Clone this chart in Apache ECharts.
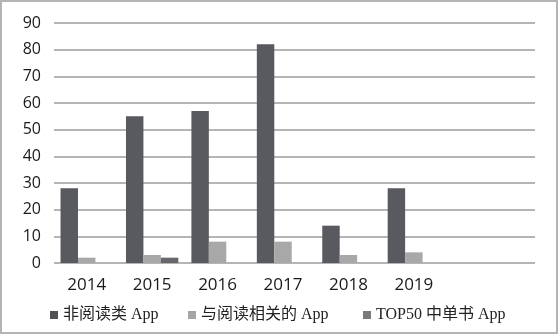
<!DOCTYPE html>
<html><head><meta charset="utf-8">
<script src="https://cdn.jsdelivr.net/npm/echarts@6/dist/echarts.min.js"></script>
<style>html,body{margin:0;padding:0;background:#fff}#c{width:558px;height:334px}</style>
</head><body><div id="c"></div>
<script>
var categories = ['2014','2015','2016','2017','2018','2019',''];
var seriesNames = ['非阅读类 App','与阅读相关的 App','TOP50 中单书 App'];
var nonReading = [28,55,57,82,14,28,null];
var readingRelated = [2,3,8,8,3,4,null];
var top50 = [0,2,0,0,0,0,null];
var yTicks = {min:0,max:90,interval:10};

var chart = echarts.init(document.getElementById('c'));
var legendFont = {fontFamily:"'Liberation Serif','Noto Sans CJK SC',serif",fontSize:16,color:'#222'};
chart.setOption({
  animation:false,
  graphic:[{type:'rect',shape:{x:1,y:1,width:556,height:332},style:{fill:'none',stroke:'#b4b4b4',lineWidth:2},z:100}],
  grid:[
    {left:54,right:23,top:23,bottom:71},
    {left:54,right:46,top:23,bottom:71}
  ],
  xAxis:[
    {gridIndex:0,type:'category',data:categories,show:false},
    {gridIndex:1,type:'category',data:categories,axisLine:{show:false},axisTick:{show:false},
     axisLabel:{fontFamily:"'Open Sans',sans-serif",fontSize:17,color:'#1a1a1a',margin:14}}
  ],
  yAxis:[
    {gridIndex:0,type:'value',min:yTicks.min,max:yTicks.max,interval:yTicks.interval,
     axisLine:{show:false},axisTick:{show:false},
     splitLine:{lineStyle:{color:'#9c9c9c',width:1.5}},
     axisLabel:{fontFamily:"'Open Sans',sans-serif",fontSize:16,color:'#1a1a1a',margin:13}},
    {gridIndex:1,type:'value',min:yTicks.min,max:yTicks.max,interval:yTicks.interval,show:false,splitLine:{show:false}}
  ],
  legend:[
    {left:45,top:302,itemWidth:8,itemHeight:8,icon:'rect',textStyle:legendFont,
     data:[{name:seriesNames[0],itemStyle:{color:'#505155'}}]},
    {left:183,top:302,itemWidth:8,itemHeight:8,icon:'rect',textStyle:legendFont,
     data:[{name:seriesNames[1],itemStyle:{color:'#a6a6a6'}}]},
    {left:358,top:302,itemWidth:8,itemHeight:8,icon:'rect',textStyle:legendFont,
     data:[{name:seriesNames[2],itemStyle:{color:'#7a7a7a'}}]}
  ],
  series:[
    {name:seriesNames[0],type:'bar',xAxisIndex:1,yAxisIndex:1,data:nonReading,barGap:'0%',barCategoryGap:'20%',itemStyle:{color:'#595a5f'}},
    {name:seriesNames[1],type:'bar',xAxisIndex:1,yAxisIndex:1,data:readingRelated,barGap:'0%',barCategoryGap:'20%',itemStyle:{color:'#a8a8a8'}},
    {name:seriesNames[2],type:'bar',xAxisIndex:1,yAxisIndex:1,data:top50,barGap:'0%',barCategoryGap:'20%',itemStyle:{color:'#66676c'}}
  ]
});
</script></body></html>
